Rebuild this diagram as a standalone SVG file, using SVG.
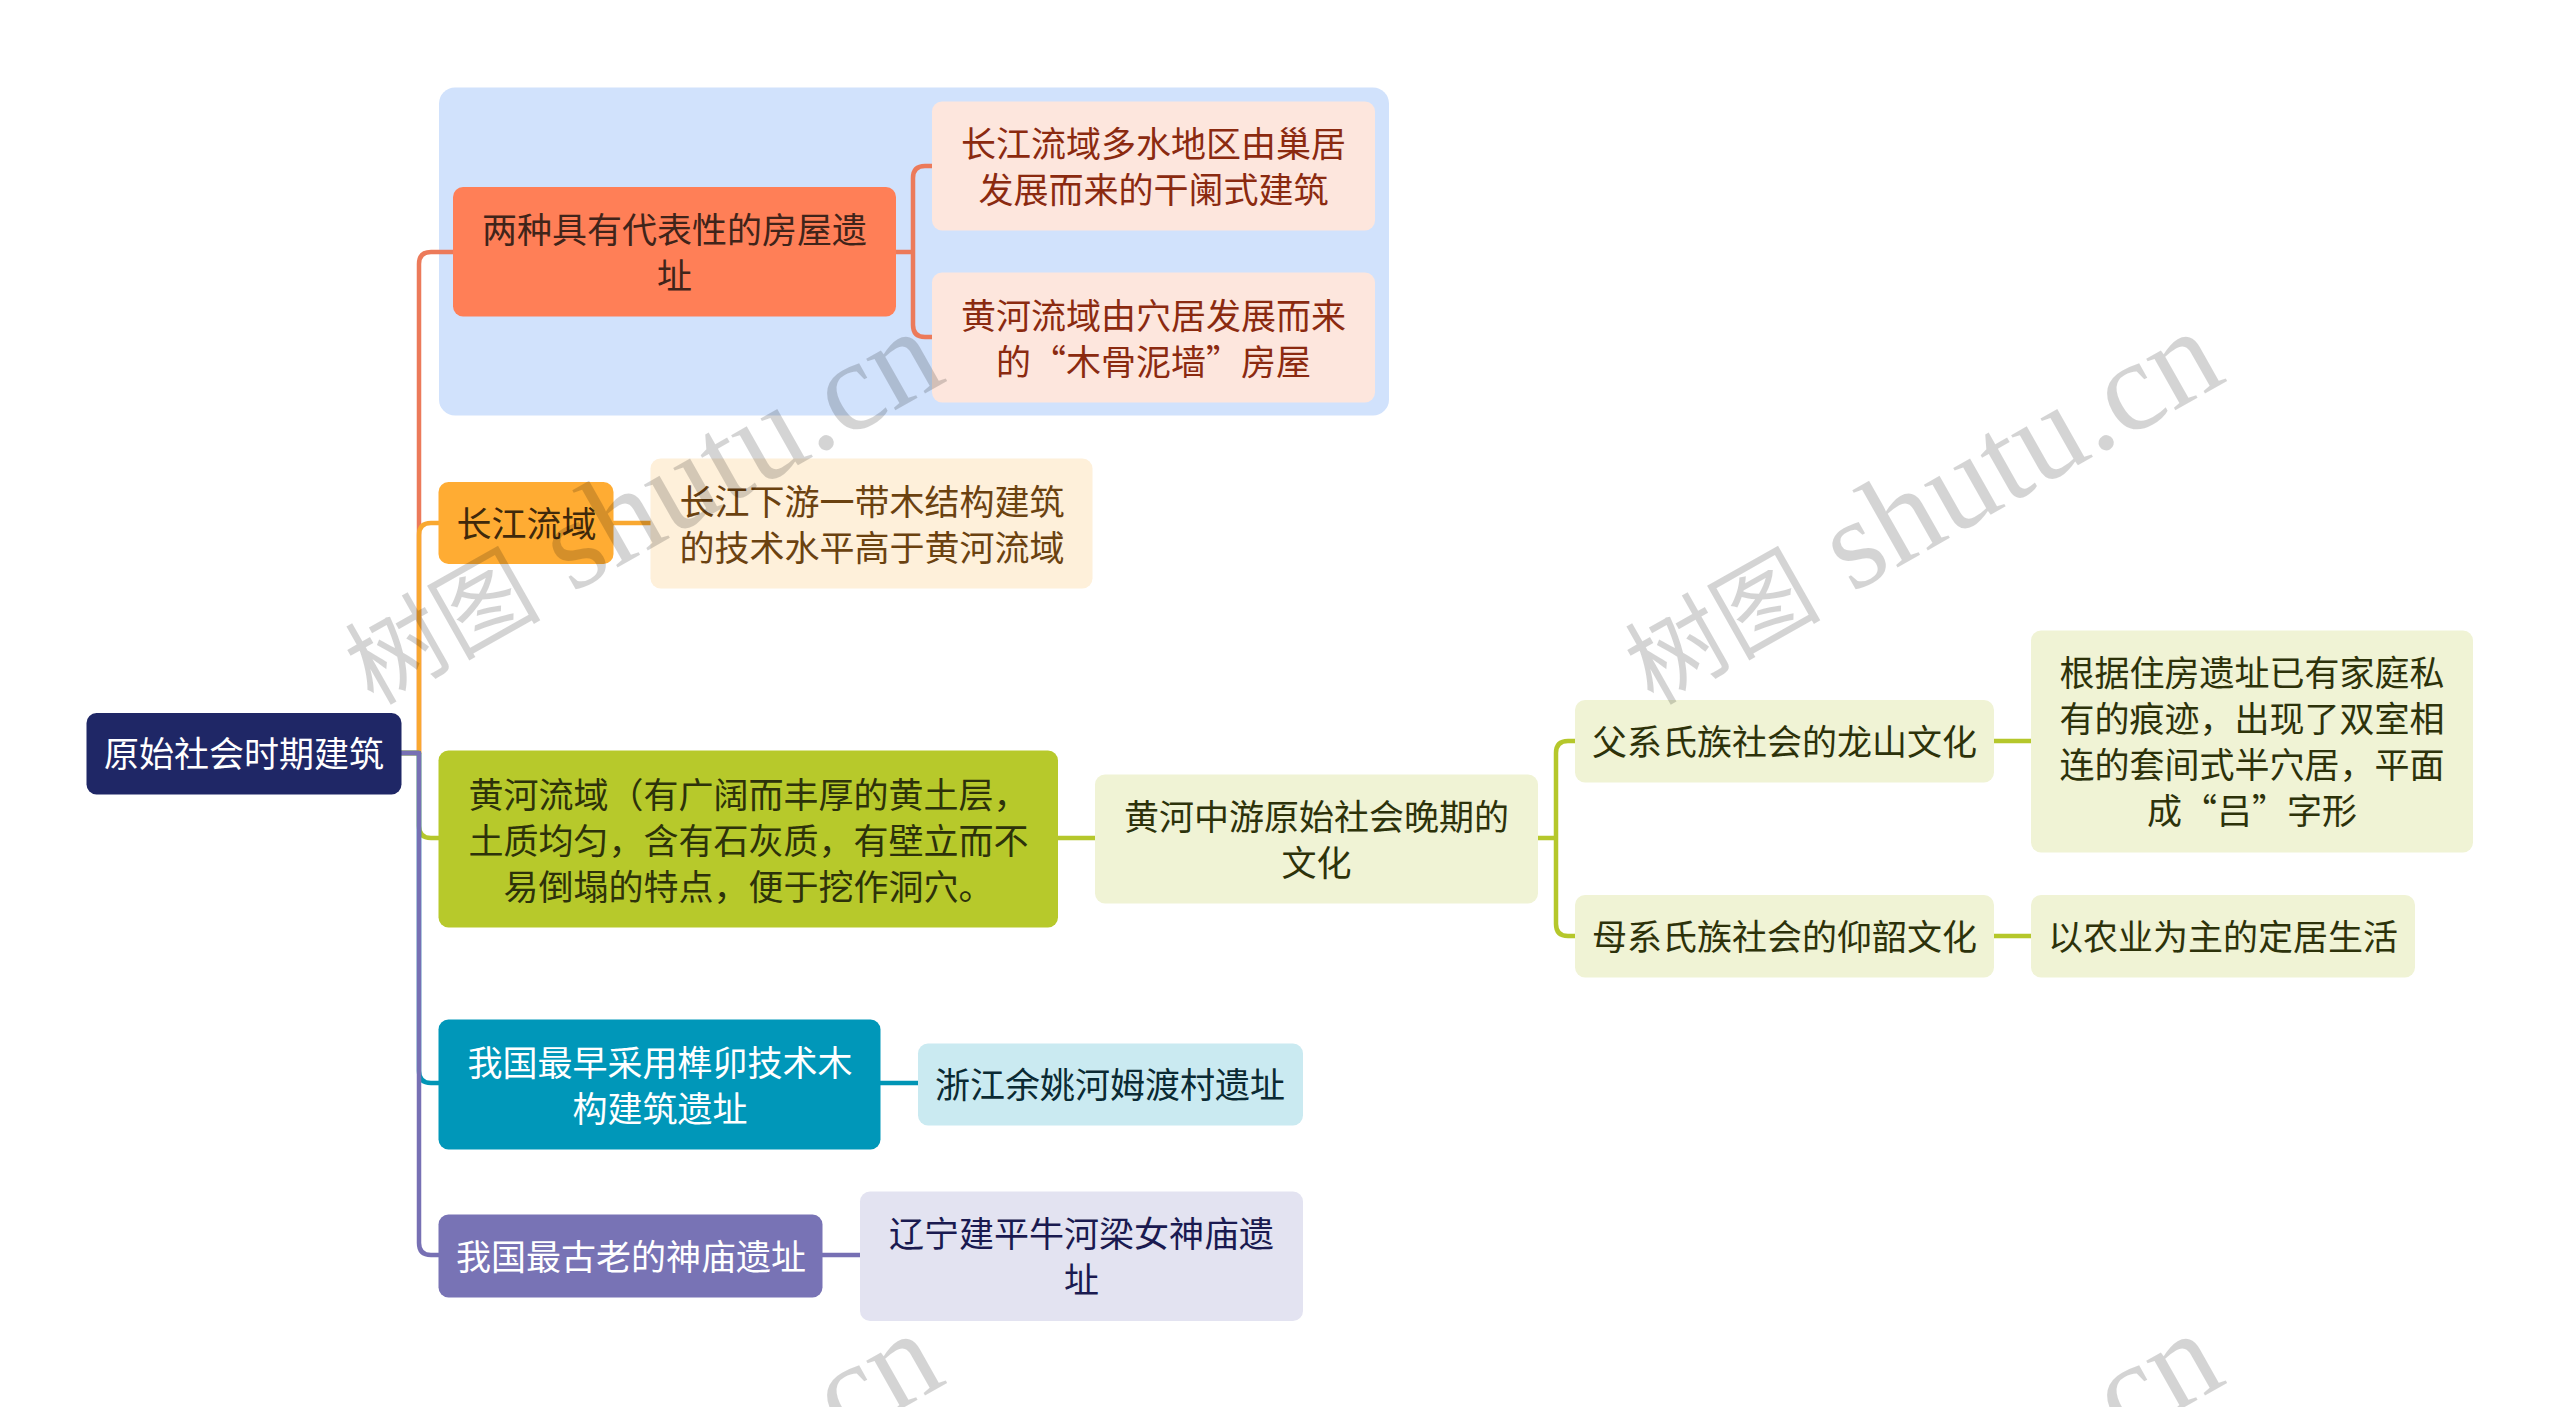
<svg xmlns="http://www.w3.org/2000/svg" width="2560" height="1407" viewBox="0 0 2560 1407">
<style>
text{font-family:"Noto Sans CJK SC","Noto Sans",sans-serif;font-size:35px;text-anchor:middle}
.c path{fill:none;stroke-width:4.5;stroke-linejoin:round}
text.wm{font-family:"Liberation Serif","Noto Sans CJK SC",serif;font-size:129px;text-anchor:end;fill:#000;fill-opacity:.17}
.wm tspan{font-family:"Noto Sans CJK SC",serif;font-size:98px}
.o{stroke:#EC7A5A}.y{stroke:#F9A830}.g{stroke:#B5C72B}.t{stroke:#0095B5}.p{stroke:#7770B4}
</style>
<rect width="2560" height="1407" fill="#fff"/>
<rect id="boundary" x="439" y="87.500" width="950" height="328" rx="16" fill="#D1E2FC"/>
<g id="connectors" class="c">
<path class="o" d="M401 753H419V264Q419 252 431 252H453"/>
<path class="y" d="M401 753H419V535Q419 523 431 523H439"/>
<path class="g" d="M401 753H419V826Q419 838 431 838H439"/>
<path class="t" d="M401 753H419V1071Q419 1083 431 1083H439"/>
<path class="p" d="M401 753H419V1243Q419 1255 431 1255H439"/>
<path class="o" d="M896 252H913M932 166H925Q913 166 913 178V325Q913 337 925 337H932"/>
<path class="y" d="M613 523H651"/>
<path class="g" d="M1058 838H1095"/>
<path class="t" d="M880 1083H918"/>
<path class="p" d="M822 1255H860"/>
<path class="g" d="M1537 838H1556M1575 741H1568Q1556 741 1556 753V924Q1556 936 1568 936H1575"/>
<path class="g" d="M1994 741H2031"/>
<path class="g" d="M1994 936H2031"/>
</g>
<g id="root"><rect x="86.500" y="713" width="315" height="81.500" rx="10" fill="#1F2766"/><text x="244" y="767" fill="#fff">原始社会时期建筑</text></g>
<g id="n1"><rect x="453" y="187" width="443" height="129.500" rx="10" fill="#FF7F57"/><text x="674.500" y="243" fill="#40241A">两种具有代表性的房屋遗</text><text x="674.500" y="289" fill="#40241A">址</text></g>
<g id="n1a"><rect x="932" y="101.500" width="443" height="129" rx="10" fill="#FDE6DD"/><text x="1153.500" y="157" fill="#8B2A10">长江流域多水地区由巢居</text><text x="1153.500" y="203" fill="#8B2A10">发展而来的干阑式建筑</text></g>
<g id="n1b"><rect x="932" y="272.500" width="443" height="130" rx="10" fill="#FDE6DD"/><text x="1153.500" y="329" fill="#8B2A10">黄河流域由穴居发展而来</text><text x="1153.500" y="375" fill="#8B2A10">的“木骨泥墙”房屋</text></g>
<g id="n2"><rect x="438.500" y="482" width="175" height="82" rx="10" fill="#FFAC33"/><text x="526.500" y="537" fill="#40290B">长江流域</text></g>
<g id="n2a"><rect x="650.500" y="458.500" width="442" height="130" rx="10" fill="#FEF0DA"/><text x="872" y="515" fill="#6B4210">长江下游一带木结构建筑</text><text x="872" y="561" fill="#6B4210">的技术水平高于黄河流域</text></g>
<g id="n3"><rect x="438.500" y="750.500" width="619.500" height="177" rx="10" fill="#B7C92B"/><text x="748.500" y="808" fill="#2D320A">黄河流域（有广阔而丰厚的黄土层，</text><text x="748.500" y="854" fill="#2D320A">土质均匀，含有石灰质，有壁立而不</text><text x="748.500" y="900" fill="#2D320A">易倒塌的特点，便于挖作洞穴。</text></g>
<g id="n3a"><rect x="1095" y="774.500" width="443" height="129" rx="10" fill="#F0F3D5"/><text x="1316.500" y="830" fill="#2D320A">黄河中游原始社会晚期的</text><text x="1316.500" y="876" fill="#2D320A">文化</text></g>
<g id="n3b"><rect x="1575" y="700" width="419" height="82.500" rx="10" fill="#F0F3D5"/><text x="1784.500" y="755" fill="#2D320A">父系氏族社会的龙山文化</text></g>
<g id="n3c"><rect x="1575" y="895" width="419" height="82.500" rx="10" fill="#F0F3D5"/><text x="1784.500" y="950" fill="#2D320A">母系氏族社会的仰韶文化</text></g>
<g id="n3d"><rect x="2031" y="630.500" width="442" height="222" rx="10" fill="#F0F3D5"/><text x="2252" y="686" fill="#2D320A">根据住房遗址已有家庭私</text><text x="2252" y="732" fill="#2D320A">有的痕迹，出现了双室相</text><text x="2252" y="778" fill="#2D320A">连的套间式半穴居，平面</text><text x="2252" y="824" fill="#2D320A">成“吕”字形</text></g>
<g id="n3e"><rect x="2031" y="895" width="384" height="82.500" rx="10" fill="#F0F3D5"/><text x="2223" y="950" fill="#2D320A">以农业为主的定居生活</text></g>
<g id="n4"><rect x="438.500" y="1019.500" width="442" height="130" rx="10" fill="#0097B9"/><text x="660" y="1076" fill="#fff">我国最早采用榫卯技术木</text><text x="660" y="1122" fill="#fff">构建筑遗址</text></g>
<g id="n4a"><rect x="918" y="1043.500" width="385" height="82" rx="10" fill="#CAEAF1"/><text x="1110" y="1098" fill="#0B2A33">浙江余姚河姆渡村遗址</text></g>
<g id="n5"><rect x="438.500" y="1214.500" width="384" height="83" rx="10" fill="#7873B5"/><text x="631" y="1270" fill="#fff">我国最古老的神庙遗址</text></g>
<g id="n5a"><rect x="860" y="1191.500" width="443" height="129.500" rx="10" fill="#E3E3F1"/><text x="1081.500" y="1247" fill="#1A1A50">辽宁建平牛河梁女神庙遗</text><text x="1081.500" y="1293" fill="#1A1A50">址</text></g>
<g id="watermarks">
<text class="wm" transform="translate(949 380) rotate(-29.500)"><tspan>树图</tspan> shutu.cn</text>
<text class="wm" transform="translate(2229 380) rotate(-29.500)"><tspan>树图</tspan> shutu.cn</text>
<text class="wm" transform="translate(949 1382) rotate(-29.500)">cn</text>
<text class="wm" transform="translate(2229 1382) rotate(-29.500)">cn</text>
</g>
</svg>
